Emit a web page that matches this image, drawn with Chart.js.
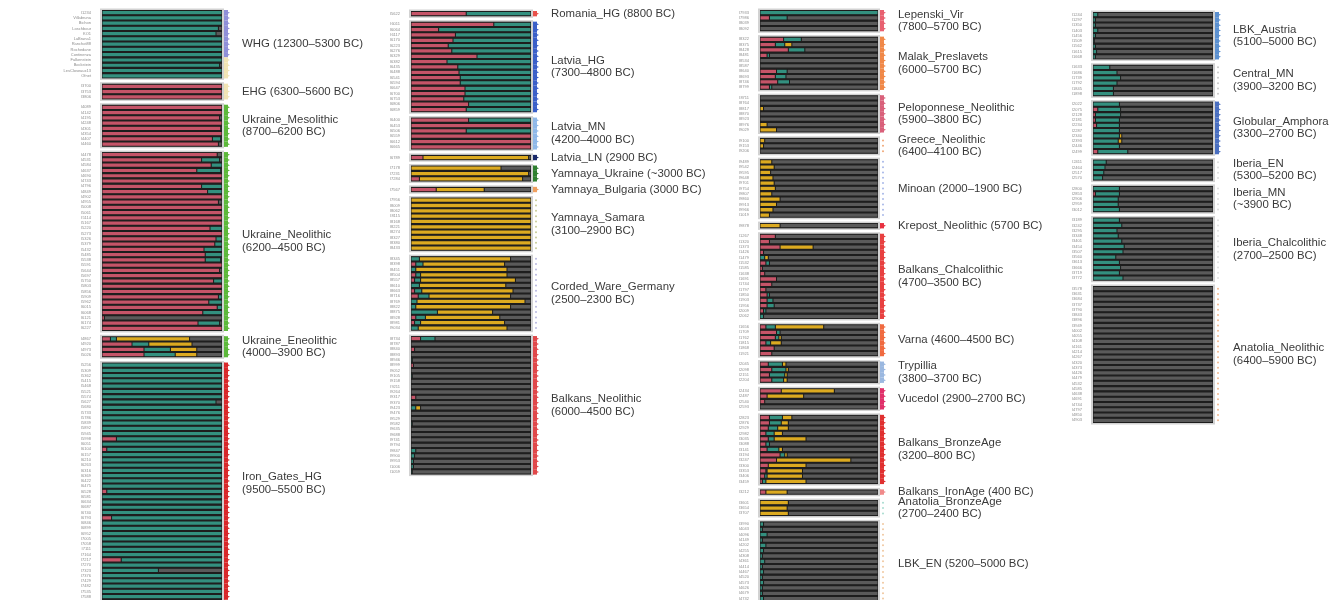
<!DOCTYPE html>
<html>
<head>
<meta charset="utf-8">
<script src="https://cdn.jsdelivr.net/npm/chart.js@4.4.0/dist/chart.umd.min.js"></script>
<style>
  html, body { margin: 0; padding: 0; background: #fff; width: 1338px; height: 600px; overflow: hidden; }
  canvas { position: absolute; top: 0; }
</style>
</head>
<body>
<canvas id="col1" width="370" height="610" style="left:0px"></canvas>
<canvas id="col2" width="345" height="480" style="left:370px"></canvas>
<canvas id="col3" width="340" height="612" style="left:715px"></canvas>
<canvas id="col4" width="283" height="430" style="left:1055px"></canvas>
<script>
// ancestry proportions per sample, percent: [EHG, WHG, Yamnaya, Anatolia_Neolithic]
const components = ['EHG', 'WHG', 'Yamnaya', 'Anatolia_Neolithic'];
const componentColors = ['#c55468', '#33907f', '#dcaa20', '#5a5a5a'];

// ---- column 1
const WHG = [[0,100,0,0],[0,100,0,0],[0,100,0,0],[0,97,0,3],[0,95,0,5],[0,100,0,0],[0,100,0,0],
  [0,100,0,0],[0,100,0,0],[0,100,0,0],[0,98,0,2],[0,100,0,0],[0,100,0,0]];
const EHG = [[100,0,0,0],[100,0,0,0],[100,0,0,0]];
const Ukraine_Mesolithic = [[100,0,0,0],[100,0,0,0],[98,0,0,2],[100,0,0,0],[99,0,0,1],[100,0,0,0],[92,7,0,1],[97,0,0,3]];
const Ukraine_Neolithic = [[96,0,0,4],[83,15,0,2],[91,9,0,0],[79,20,0,1],[100,0,0,0],[100,0,0,0],[83,17,0,0],
  [88,12,0,0],[100,0,0,0],[97,0,0,3],[100,0,0,0],[100,0,0,0],[100,0,0,0],[100,0,0,0],[90,10,0,0],
  [100,0,0,0],[95,5,0,0],[94,6,0,0],[85,15,0,0],[86,14,0,0],[86,13,0,1],[100,0,0,0],[98,0,0,2],
  [100,0,0,0],[93,7,0,0],[100,0,0,0],[100,0,0,0],[97,3,0,0],[89,11,0,0],[96,4,0,0],[84,16,0,0],
  [2,0,0,98],[80,18,0,2],[100,0,0,0]];
const Ukraine_Eneolithic = [[7,5,61,27],[25,14,36,25],[35,22,22,21],[35,26,18,21]];
const Iron_Gates_HG = [[0,100,0,0],[0,100,0,0],[0,100,0,0],[0,100,0,0],[0,100,0,0],[0,100,0,0],[0,100,0,0],
  [0,95,0,5],[0,100,0,0],[0,100,0,0],[0,100,0,0],[0,100,0,0],[0,100,0,0],[0,100,0,0],[12,88,0,0],
  [0,100,0,0],[4,96,0,0],[0,100,0,0],[0,100,0,0],[0,100,0,0],[0,100,0,0],[0,100,0,0],[0,100,0,0],
  [0,100,0,0],[4,96,0,0],[0,100,0,0],[0,100,0,0],[0,100,0,0],[0,100,0,0],[8,92,0,0],[0,100,0,0],
  [0,100,0,0],[0,100,0,0],[0,100,0,0],[0,100,0,0],[0,100,0,0],[0,100,0,0],[16,84,0,0],[0,100,0,0],
  [0,47,0,53],[0,100,0,0],[0,100,0,0],[0,100,0,0],[0,100,0,0],[0,100,0,0],[0,100,0,0]];

// ---- column 2
const Romania_HG = [[46,54,0,0]];
const Latvia_HG = [[69,31,0,0],[23,77,0,0],[37,63,0,0],[35,65,0,0],[31,69,0,0],[34,66,0,0],[55,45,0,0],
  [30,70,0,0],[39,61,0,0],[40,60,0,0],[41,59,0,0],[41,59,0,0],[45,55,0,0],[45,55,0,0],[44,56,0,0],
  [48,52,0,0],[46,54,0,0]];
const Latvia_MN = [[48,52,0,0],[100,0,0,0],[46,54,0,0],[100,0,0,0],[100,0,0,0],[100,0,0,0]];
const Latvia_LN = [[10,0,88,2]];
const Yamnaya_Ukraine = [[0,0,75,25],[0,0,98,2],[7,0,86,7]];
const Yamnaya_Bulgaria = [[21,0,40,39]];
const Yamnaya_Samara = [[0,0,100,0],[0,0,100,0],[0,0,100,0],[0,0,100,0],[0,0,100,0],
  [0,0,100,0],[0,0,100,0],[0,0,100,0],[0,0,100,0],[0,0,100,0]];
const Corded_Ware_Germany = [[0,7,76,17],[4,6,68,22],[0,4,76,20],[4,4,72,20],[3,5,79,13],[0,7,72,21],
  [3,6,76,15],[6,9,68,17],[0,5,90,5],[0,4,79,17],[0,22,46,32],[4,8,62,26],[3,5,70,22],[0,6,74,20]];
const Balkans_Neolithic = [[8,12,0,80],[0,0,0,100],[3,0,0,97],[0,0,0,100],[0,1,0,99],[2,0,0,98],
  [0,0,0,100],[0,1,0,99],[0,0,0,100],[0,0,0,100],[0,0,0,100],[4,0,0,96],[0,0,0,100],[0,4,4,92],
  [0,0,0,100],[0,0,0,100],[0,1,0,99],[0,0,0,100],[0,0,0,100],[0,0,0,100],[0,0,0,100],[0,4,0,96],
  [0,3,0,97],[0,2,0,98],[0,2,0,98],[0,1,0,99]];

// ---- column 3
const Lepenski_Vir = [[0,100,0,0],[8,15,0,77],[0,0,0,100],[0,0,0,100]];
const Malak_Preslavets = [[20,15,0,65],[13,8,6,73],[24,14,0,62],[6,2,0,92],[0,0,0,100],[0,0,0,100],
  [14,9,0,77],[13,9,0,78],[15,10,0,75],[8,2,0,90]];
const Peloponnese_Neolithic = [[0,0,0,100],[0,0,0,100],[0,0,3,97],[0,0,0,100],[0,0,0,100],[0,0,6,94],[0,0,14,86]];
const Greece_Neolithic = [[0,0,4,96],[0,0,3,97],[0,0,0,100]];
const Minoan = [[0,0,10,90],[0,0,12,88],[0,0,9,91],[0,0,11,89],[0,0,12,88],[0,0,13,87],[0,0,10,90],
  [0,0,17,83],[0,0,14,86],[0,0,11,89],[0,0,8,92]];
const Krepost_Neolithic = [[0,0,17,83]];
const Balkans_Chalcolithic = [[13,0,0,87],[8,0,0,92],[17,0,28,55],[3,0,0,97],[0,4,3,93],[5,3,0,92],
  [2,0,0,98],[4,0,0,96],[14,0,0,86],[10,0,0,90],[5,0,0,95],[6,2,0,92],[6,5,0,89],[6,6,0,88],
  [3,2,0,95],[0,3,0,97]];
const Varna = [[5,8,41,46],[14,3,0,83],[13,3,2,82],[5,4,9,82],[12,0,0,88],[10,0,0,90]];
const Trypillia = [[7,12,3,78],[10,12,2,76],[8,13,2,77],[10,10,3,77]];
const Vucedol = [[18,0,45,37],[6,0,31,63],[4,0,0,96],[0,0,0,100]];
const Balkans_BronzeAge = [[8,11,8,73],[8,10,6,76],[7,8,9,76],[5,7,7,81],[7,5,27,61],[5,3,0,92],
  [6,10,3,81],[17,4,2,77],[14,0,63,23],[7,0,32,61],[5,1,30,64],[4,2,30,64],[2,3,34,61]];
const Balkans_IronAge = [[5,0,18,77]];
const Anatolia_BronzeAge = [[0,0,24,76],[0,0,23,77],[0,0,24,76]];
const LBK_EN = [[0,3,0,97],[0,2,0,98],[0,6,0,94],[0,2,0,98],[0,5,0,95],[0,3,0,97],[0,2,0,98],
  [0,4,0,96],[0,2,0,98],[0,3,0,97],[0,2,0,98],[0,3,0,97],[0,2,0,98],[0,2,0,98],[0,3,0,97],[0,2,0,98]];

// ---- column 4
const LBK_Austria = [[0,4,0,96],[0,2,0,98],[0,2,0,98],[0,4,0,96],[0,2,0,98],[0,1,0,99],[0,2,0,98],[0,3,0,97],[0,2,0,98]];
const Central_MN = [[0,14,0,86],[0,20,0,80],[0,23,0,77],[0,20,0,80],[0,17,0,83],[0,17,0,83]];
const Globular_Amphora = [[0,22,0,78],[4,19,0,77],[2,21,0,77],[2,20,0,78],[3,19,0,78],[0,22,0,78],
  [0,22,2,76],[0,21,3,76],[0,22,0,78],[4,25,0,71]];
const Iberia_EN = [[0,11,0,89],[0,10,0,90],[0,9,0,91],[0,8,0,92]];
const Iberia_MN = [[0,22,0,78],[2,20,0,78],[0,21,0,79],[0,21,0,79],[0,22,0,78]];
const Iberia_Chalcolithic = [[0,22,0,78],[0,24,0,76],[0,20,0,80],[0,21,0,79],[0,24,0,76],[0,26,0,74],
  [0,25,0,75],[0,19,0,81],[0,22,0,78],[0,23,0,77],[0,22,0,78],[0,25,0,75]];
const Anatolia_Neolithic = [[0,0,0,100],[0,0,0,100],[0,0,0,100],[0,0,0,100],[0,0,0,100],[0,0,0,100],
  [0,0,0,100],[0,0,0,100],[0,0,0,100],[0,0,0,100],[0,0,0,100],[0,0,0,100],[0,0,0,100],[0,0,0,100],
  [0,0,0,100],[0,0,0,100],[0,0,0,100],[0,0,0,100],[0,0,0,100],[0,0,0,100],[0,0,0,100],[0,0,0,100],
  [0,0,0,100],[0,0,0,100],[0,0,0,100],[0,0,0,100]];

const whgSamples = ['I1234', 'Villabruna', 'Bichon', 'Loschbour', 'KO1', 'LaBrana1', 'Ranchot88',
  'Rochedane', 'Continenza', 'Falkenstein', 'Bockstein', 'LesCloseaux13', 'Ofnet'];

const col1Groups = [WHG, EHG, Ukraine_Mesolithic, Ukraine_Neolithic, Ukraine_Eneolithic, Iron_Gates_HG];
const col1Labels = ['WHG (12300–5300 BC)', 'EHG (6300–5600 BC)', 'Ukraine_Mesolithic\n(8700–6200 BC)',
  'Ukraine_Neolithic\n(6200–4500 BC)', 'Ukraine_Eneolithic\n(4000–3900 BC)', 'Iron_Gates_HG\n(9500–5500 BC)'];
const col1Marks = ['#8f8fd8', '#f1e4b4', '#5cb83a', '#5cb83a', '#5cb83a', '#d8282a'];

const col2Groups = [Romania_HG, Latvia_HG, Latvia_MN, Latvia_LN, Yamnaya_Ukraine, Yamnaya_Bulgaria,
  Yamnaya_Samara, Corded_Ware_Germany, Balkans_Neolithic];
const col2Labels = ['Romania_HG (8800 BC)', 'Latvia_HG\n(7300–4800 BC)', 'Latvia_MN\n(4200–4000 BC)',
  'Latvia_LN (2900 BC)', 'Yamnaya_Ukraine (~3000 BC)', 'Yamnaya_Bulgaria (3000 BC)',
  'Yamnaya_Samara\n(3100–2900 BC)', 'Corded_Ware_Germany\n(2500–2300 BC)', 'Balkans_Neolithic\n(6000–4500 BC)'];
const col2Marks = ['#e8504a', '#3b5fc8', '#8fb8e8', '#1a2a6a', '#2f7f2f', '#f0a060', ':#c8cc98', ':#b8b8e0', '#e0484a'];

const col3Groups = [Lepenski_Vir, Malak_Preslavets, Peloponnese_Neolithic, Greece_Neolithic, Minoan,
  Krepost_Neolithic, Balkans_Chalcolithic, Varna, Trypillia, Vucedol, Balkans_BronzeAge, Balkans_IronAge,
  Anatolia_BronzeAge, LBK_EN];
const col3Labels = ['Lepenski_Vir\n(7800–5700 BC)', 'Malak_Preslavets\n(6000–5700 BC)',
  'Peloponnese_Neolithic\n(5900–3800 BC)', 'Greece_Neolithic\n(6400–4100 BC)', 'Minoan (2000–1900 BC)',
  'Krepost_Neolithic (5700 BC)', 'Balkans_Chalcolithic\n(4700–3500 BC)', 'Varna (4600–4500 BC)',
  'Trypillia\n(3800–3700 BC)', 'Vucedol (2900–2700 BC)', 'Balkans_BronzeAge\n(3200–800 BC)',
  'Balkans_IronAge (400 BC)', 'Anatolia_BronzeAge\n(2700–2400 BC)', 'LBK_EN (5200–5000 BC)'];
const col3Marks = ['#e86070', '#f08848', '#d9607a', ':#f0a878', ':#a8b8e8', '#e83040', '#e84040',
  '#f06a40', '#9bb8e0', '#e0306a', '#e03030', '#f08a8a', ':#a8dcd0', ':#f0c8a0'];

const col4Groups = [LBK_Austria, Central_MN, Globular_Amphora, Iberia_EN, Iberia_MN, Iberia_Chalcolithic, Anatolia_Neolithic];
const col4Labels = ['LBK_Austria\n(5100–5000 BC)', 'Central_MN\n(3900–3200 BC)', 'Globular_Amphora\n(3300–2700 BC)',
  'Iberia_EN\n(5300–5200 BC)', 'Iberia_MN\n(~3900 BC)', 'Iberia_Chalcolithic\n(2700–2500 BC)',
  'Anatolia_Neolithic\n(6400–5900 BC)'];
const col4Marks = ['#5b90d0', ':#c8c8c8', '#4a6fc0', ':#dddddd', ':#dddddd', ':#e0e0e0', ':#f0b890'];

function sampleId(col, gi, i) {
  if (col === 1 && gi === 0) return whgSamples[i];
  return 'I' + (1000 + (col * 2311 + gi * 389 + i * 53) % 9000);
}

function buildColumn(col, groups, labels, marks) {
  const rows = [];
  const series = [[], [], [], []];
  const spans = [];
  groups.forEach((g, gi) => {
    if (gi > 0) { rows.push(''); series.forEach(s => s.push(null)); }
    const start = rows.length;
    g.forEach((r, i) => {
      rows.push(sampleId(col, gi, i));
      r.forEach((v, k) => series[k].push(v || null));
    });
    spans.push({ start, end: rows.length - 1, label: labels[gi], mark: marks[gi] });
  });
  return { rows, series, spans };
}

function groupPlugin(spans, col) {
  return {
    id: 'groups',
    beforeDatasetsDraw(chart) {
      const { ctx, chartArea: a, scales: { y } } = chart;
      const u = y.getPixelForValue(1) - y.getPixelForValue(0);
      spans.forEach(s => {
        const t = y.getPixelForValue(s.start) - u / 2;
        const b = y.getPixelForValue(s.end) + u / 2;
        ctx.fillStyle = '#d2d2d2';
        ctx.fillRect(a.left - 2, t - 1.5, a.right - a.left + 4, b - t + 3);
        ctx.fillStyle = '#1f1f1f';
        ctx.fillRect(a.left, t, a.right - a.left, b - t);
      });
    },
    afterDraw(chart) {
      const { ctx, chartArea: a, scales: { y } } = chart;
      const u = y.getPixelForValue(1) - y.getPixelForValue(0);
      spans.forEach((s, si) => {
        const dotted = s.mark.startsWith(':');
        const color = s.mark.replace(':', '');
        for (let i = s.start; i <= s.end; i++) {
          const cy = y.getPixelForValue(i);
          let c = color;
          if (col === 1 && si === 0 && i - s.start >= 9) c = '#f1e4b4';
          ctx.fillStyle = c;
          if (dotted) {
            ctx.beginPath();
            ctx.arc(a.right + 5, cy, 1, 0, Math.PI * 2);
            ctx.fill();
          } else {
            ctx.beginPath();
            ctx.moveTo(a.right + 2, cy - u / 2);
            ctx.lineTo(a.right + 8, cy);
            ctx.lineTo(a.right + 2, cy + u / 2);
            ctx.closePath();
            ctx.fill();
            ctx.fillRect(a.right + 2, cy - u / 2, 4, u);
          }
        }
        const mid = (y.getPixelForValue(s.start) + y.getPixelForValue(s.end)) / 2;
        const lines = s.label.split('\n');
        ctx.fillStyle = '#3a3a3a';
        ctx.font = '11.4px "Liberation Sans", Arial, sans-serif';
        ctx.textBaseline = 'middle';
        ctx.textAlign = 'left';
        lines.forEach((ln, li) => {
          ctx.fillText(ln, a.right + 20, mid + (li - (lines.length - 1) / 2) * 12.5);
        });
      });
    }
  };
}

function makeChart(id, col, groups, labels, marks, opt) {
  const { rows, series, spans } = buildColumn(col, groups, labels, marks);
  new Chart(document.getElementById(id), {
    type: 'bar',
    data: {
      labels: rows,
      datasets: series.map((d, k) => ({
        label: components[k],
        data: d,
        backgroundColor: componentColors[k],
        borderColor: '#1b1b1b',
        borderWidth: 0.5,
        borderSkipped: false,
        barPercentage: 0.8,
        categoryPercentage: 1
      }))
    },
    options: {
      indexAxis: 'y',
      responsive: false,
      animation: false,
      devicePixelRatio: 1,
      layout: { padding: { top: opt.top, bottom: opt.bottom, right: opt.right, left: 0 } },
      plugins: { legend: { display: false }, tooltip: { enabled: false } },
      scales: {
        x: { stacked: true, min: 0, max: 100, display: false },
        y: {
          stacked: true,
          grid: { display: false },
          border: { display: false },
          ticks: { autoSkip: false, font: { size: 4, family: 'Liberation Sans' }, color: '#8c8c8c', padding: 3 },
          afterFit: s => { s.width = opt.axisWidth; }
        }
      }
    },
    plugins: [groupPlugin(spans, col)]
  });
}

makeChart('col1', 1, col1Groups, col1Labels, col1Marks, { top: 10, bottom: 4.5, right: 148, axisWidth: 102 });
makeChart('col2', 2, col2Groups, col2Labels, col2Marks, { top: 11, bottom: 5, right: 184, axisWidth: 41 });
makeChart('col3', 3, col3Groups, col3Labels, col3Marks, { top: 10, bottom: 4, right: 177, axisWidth: 45 });
makeChart('col4', 4, col4Groups, col4Labels, col4Marks, { top: 12, bottom: 7, right: 125, axisWidth: 38 });
</script>
</body>
</html>
